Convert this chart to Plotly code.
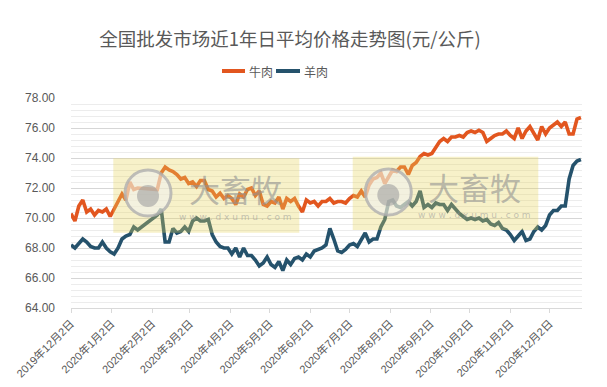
import pandas as pd
import plotly.graph_objects as go

# ---------------- data ----------------
dates_before_gap = pd.date_range("2019-12-02", periods=18, freq="3D")
dates_after_gap = pd.date_range("2020-02-06", periods=109, freq="3D")
dates = list(dates_before_gap) + list(dates_after_gap)

beef = [
    70.3, 69.8, 70.8, 71.2, 70.4, 70.6, 70.2, 70.5, 70.4, 70.6, 70.1, 70.6, 71.2, 71.6, 71.2, 72.4, 71.9, 72.0,
    71.9, 73.0, 73.4, 73.2, 73.1, 72.9, 72.6, 72.7, 72.3, 72.4,
    72.1, 72.5, 72.5, 71.9, 71.8, 71.4, 71.65, 71.3, 71.5, 71.3,
    70.9, 71.6, 71.4, 71.9, 72.0, 71.5, 71.8, 70.9, 70.8, 71.1,
    71.0, 71.4, 70.6, 71.3, 71.1, 71.3, 70.8, 70.4, 71.2, 71.0,
    71.1, 70.8, 71.1, 71.1, 71.3, 71.0, 71.1, 71.1, 71.0, 71.3,
    71.5, 71.4, 71.8, 71.4, 72.2, 72.6, 72.7, 73.0, 72.3, 72.8,
    73.2, 73.1, 73.4, 73.4, 72.9, 73.5, 73.7, 74.1, 74.3, 74.2,
    74.3, 74.7, 75.1, 75.3, 75.1, 75.4, 75.4, 75.5, 75.4, 75.7,
    75.8, 75.7, 75.85, 75.7, 75.1, 75.3, 75.5, 75.6, 75.6, 75.8,
    75.5, 75.3, 76.0, 75.3, 75.8, 76.1, 75.7, 75.2, 76.1, 75.6,
    76.0, 76.2, 76.4, 76.1, 76.4, 75.6, 75.6, 76.6, 76.7,
]

mutton = [
    68.2, 68.0, 68.3, 68.6, 68.4, 68.1, 68.0, 68.0, 68.4, 68.0, 67.75, 67.6, 68.0, 68.6, 68.8, 68.9, 69.4, 69.2,
    70.2, 70.6, 68.4, 68.4, 69.3, 69.0, 69.1, 69.4, 69.1, 69.8,
    70.0, 69.8, 69.8, 69.9, 68.9, 68.4, 68.1, 68.0, 68.0, 67.6,
    68.0, 67.4, 68.0, 67.5, 67.5, 67.2, 66.8, 67.0, 67.4, 66.9,
    66.7, 67.1, 66.5, 67.2, 66.9, 67.3, 67.4, 67.2, 67.6, 67.4,
    67.8, 67.9, 68.0, 68.2, 69.3, 68.6, 67.8, 67.7, 67.9, 68.2,
    68.3, 68.1, 68.5, 69.0, 68.4, 68.6, 68.6, 69.4, 69.9, 71.1,
    71.2, 70.8, 70.7, 70.9, 71.1, 70.8, 71.1, 71.8, 70.7, 70.9,
    70.7, 71.0, 70.9, 70.9, 70.5, 70.9, 70.6, 70.3, 70.1, 69.9,
    70.0, 69.9, 70.0, 69.8, 69.9, 69.6, 69.5, 69.7, 69.3, 69.2,
    68.9, 68.5, 68.8, 69.1, 68.5, 68.6, 69.1, 69.4, 69.2, 69.5,
    70.2, 70.5, 70.5, 70.8, 70.8, 72.6, 73.5, 73.8, 73.9,
]

series_names = ["牛肉", "羊肉"]
series_colors = ["#E2561F", "#25526C"]
tick_dates = ["2019-12-02", "2020-01-02", "2020-02-02", "2020-03-02", "2020-04-02",
              "2020-05-02", "2020-06-02", "2020-07-02", "2020-08-02", "2020-09-02",
              "2020-10-02", "2020-11-02", "2020-12-02"]
tick_labels = ["2019年12月2日", "2020年1月2日", "2020年2月2日", "2020年3月2日", "2020年4月2日",
               "2020年5月2日", "2020年6月2日", "2020年7月2日", "2020年8月2日", "2020年9月2日",
               "2020年10月2日", "2020年11月2日", "2020年12月2日"]
title_text = "全国批发市场近1年日平均价格走势图(元/公斤)"

# ---------------- figure ----------------
OFF = 8                      # page body margin offset
W, H = 607 - OFF, 387 - OFF
PLOT_L, PLOT_R, PLOT_T, PLOT_B = 71, 582, 98, 308   # plot area in page pixels
L, R, T, B = PLOT_L - OFF, W - (PLOT_R - OFF), PLOT_T - OFF, H - (PLOT_B - OFF)
PW, PH = W - L - R, H - T - B


def px(x):
    return (x - OFF - L) / PW


def py(y):
    return (H - B - (y - OFF)) / PH


fig = go.Figure()
for name, vals, col in zip(series_names, [beef, mutton], series_colors):
    fig.add_trace(go.Scatter(x=dates, y=vals, name=name, mode="lines",
                             line=dict(color=col, width=3.6), showlegend=False))

gray = "#595959"
fig.update_layout(
    width=W, height=H,
    margin=dict(l=L, r=R, t=T, b=B, autoexpand=False),
    paper_bgcolor="white", plot_bgcolor="white",
    font=dict(family="Liberation Sans, Noto Sans CJK SC, sans-serif", size=12, color=gray),
    title=dict(text=title_text, x=(290 - OFF) / W, xanchor="center",
               y=1 - (40 - OFF) / H, yanchor="middle",
               xref="container", yref="container",
               font=dict(family="Noto Sans CJK SC, sans-serif", size=18.5, color=gray)),
    showlegend=False,
    xaxis=dict(type="date", range=["2019-12-02", "2020-12-26 20:00"],
               tickmode="array", tickvals=tick_dates, ticktext=tick_labels,
               tickangle=-45, tickfont=dict(size=11, color=gray),
               showgrid=False, showline=True, linecolor="#d9d9d9", linewidth=1,
               ticks="outside", ticklen=4, tickcolor="#d9d9d9", zeroline=False),
    yaxis=dict(range=[64, 78], tick0=64, dtick=2, tickformat=".2f",
               showgrid=True, gridcolor="#d6d6d6", gridwidth=1,
               minor=dict(tick0=64, dtick=0.4, showgrid=True, gridcolor="#ececec", gridwidth=1),
               showline=False, zeroline=False, ticks="", ticklabelstandoff=15,
               tickfont=dict(size=12, color=gray)),
)

# legend (drawn manually for compact spacing)
legend_items = [(222, 245, 247), (276, 300, 302)]
for (lx0, lx1, tx), name, col in zip(legend_items, series_names, series_colors):
    fig.add_shape(type="line", xref="paper", yref="paper", x0=px(lx0), x1=px(lx1),
                  y0=py(71), y1=py(71), line=dict(color=col, width=4))
    fig.add_annotation(xref="paper", yref="paper", x=px(tx), y=py(71), text=name,
                       showarrow=False, xanchor="left", yanchor="middle",
                       font=dict(family="Noto Sans CJK SC, sans-serif", size=12, color=gray))

# watermark overlays (semi-transparent, drawn above the lines)
marks = [
    dict(rect=(113.3, 158.3, 299.3, 232.7), circ=(148.0, 193.0), text_x=235, text_y=188, url_y=217),
    dict(rect=(352.7, 156.7, 538.3, 230.0), circ=(388.3, 192.0), text_x=474, text_y=186, url_y=215),
]
for m in marks:
    x0, y0, x1, y1 = m["rect"]
    fig.add_shape(type="rect", xref="paper", yref="paper", x0=px(x0), x1=px(x1), y0=py(y1), y1=py(y0),
                  fillcolor="rgba(232,214,90,0.33)", line=dict(width=0), layer="above")
    cx, cy = m["circ"]
    r = 23
    fig.add_shape(type="circle", xref="paper", yref="paper", x0=px(cx - r), x1=px(cx + r),
                  y0=py(cy + r), y1=py(cy - r),
                  fillcolor="rgba(240,240,240,0.55)", line=dict(color="rgba(175,175,175,0.8)", width=3),
                  layer="above")
    r2 = 11
    fig.add_shape(type="circle", xref="paper", yref="paper", x0=px(cx - r2), x1=px(cx + r2),
                  y0=py(cy + 3 + r2), y1=py(cy + 3 - r2),
                  fillcolor="rgba(160,160,160,0.6)", line=dict(width=0), layer="above")
    fig.add_annotation(xref="paper", yref="paper", x=px(m["text_x"]), y=py(m["text_y"]),
                       text="大畜牧", showarrow=False, xanchor="center", yanchor="middle",
                       font=dict(family="Noto Sans CJK SC, sans-serif", size=31,
                                 color="rgba(145,145,145,0.6)"))
    fig.add_annotation(xref="paper", yref="paper", x=px(m["text_x"]), y=py(m["url_y"]),
                       text="w w w . d x u m u . c o m", showarrow=False, xanchor="center", yanchor="middle",
                       font=dict(family="DejaVu Sans, sans-serif", size=9,
                                 color="rgba(150,150,150,0.55)"))

fig.write_html("out.html")
